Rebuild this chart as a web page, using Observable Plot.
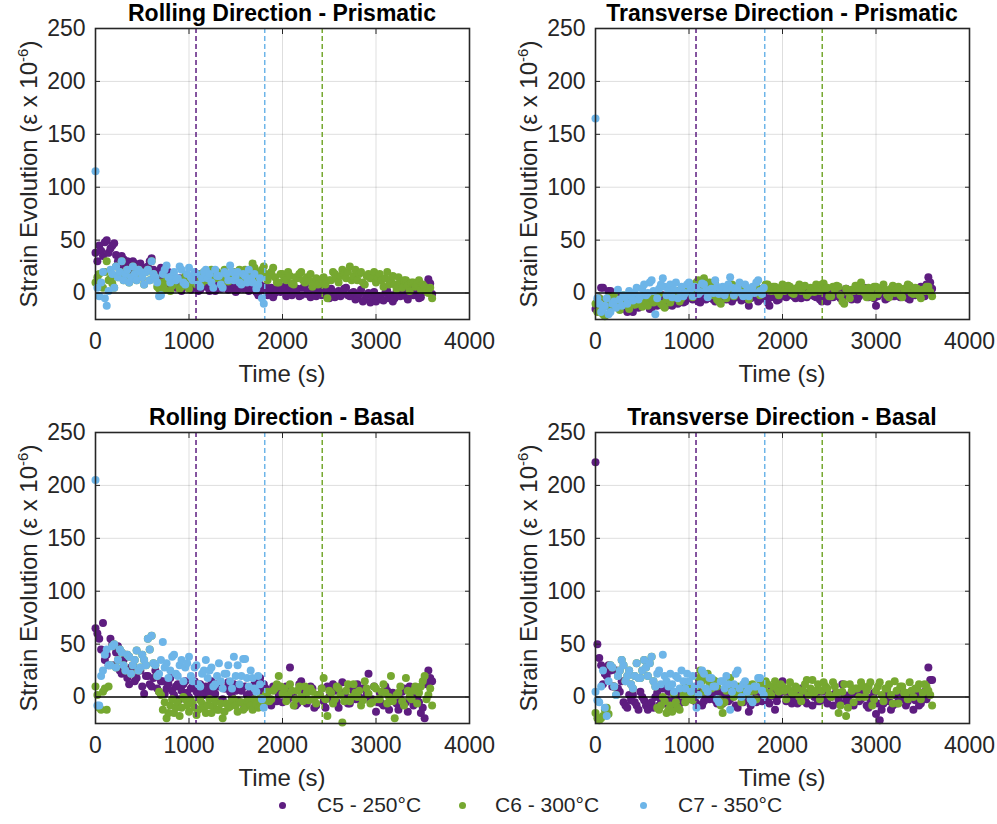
<!DOCTYPE html>
<html><head><meta charset="utf-8">
<script src="https://cdn.jsdelivr.net/npm/d3@7"></script>
<script src="https://cdn.jsdelivr.net/npm/@observablehq/plot@0.6"></script>
<style>
body{margin:0;background:#fff;font-family:"Liberation Sans",Arial,sans-serif;color:#262626}
#root{position:relative;width:997px;height:824px;overflow:hidden}
.panel{position:absolute;width:500px;height:384px}
.panel svg{position:absolute;left:0;top:0}
.title{position:absolute;left:60px;width:444px;top:0px;text-align:center;font-weight:bold;font-size:23px;line-height:26px;color:#000;white-space:nowrap}
.xlab{position:absolute;left:95px;width:374px;top:360px;text-align:center;font-size:24px;line-height:28px;color:#262626}
.ylab{position:absolute;left:29px;top:174px;transform:translate(-50%,-50%) rotate(-90deg);font-size:24px;line-height:28px;white-space:nowrap;color:#262626}
.ylab sup{font-size:15px;line-height:0}
.leg{position:absolute;top:793px;font-size:21px;line-height:24px;color:#262626;white-space:nowrap}
.legdot{position:absolute;top:802px;width:7px;height:7px;border-radius:50%}
</style></head>
<body><div id="root"></div>
<script>
const series = ["C5 - 250°C", "C6 - 300°C", "C7 - 350°C"];
const colors = ["#5E1D80", "#76A830", "#6DB5E8"];
const xTicks = [0, 1000, 2000, 3000, 4000];
const yTicks = [0, 50, 100, 150, 200, 250];
const transitionTimes = [1075, 2425, 1810]; // C5, C6, C7
const panelTitles = ["Rolling Direction - Prismatic", "Transverse Direction - Prismatic", "Rolling Direction - Basal", "Transverse Direction - Basal"];

const timesLong = [0,20,40,60,80,100,120,140,160,180,
200,220,240,260,280,300,320,340,360,380,
400,420,440,460,480,500,520,540,560,580,
600,620,640,660,680,700,720,740,760,780,
800,820,840,860,880,900,920,940,960,980,
1000,1020,1040,1060,1080,1100,1120,1140,1160,1180,
1200,1220,1240,1260,1280,1300,1320,1340,1360,1380,
1400,1420,1440,1460,1480,1500,1520,1540,1560,1580,
1600,1620,1640,1660,1680,1700,1720,1740,1760,1780,
1800,1820,1840,1860,1880,1900,1920,1940,1960,1980,
2000,2020,2040,2060,2080,2100,2120,2140,2160,2180,
2200,2220,2240,2260,2280,2300,2320,2340,2360,2380,
2400,2420,2440,2460,2480,2500,2520,2540,2560,2580,
2600,2620,2640,2660,2680,2700,2720,2740,2760,2780,
2800,2820,2840,2860,2880,2900,2920,2940,2960,2980,
3000,3020,3040,3060,3080,3100,3120,3140,3160,3180,
3200,3220,3240,3260,3280,3300,3320,3340,3360,3380,
3400,3420,3440,3460,3480,3500,3520,3540,3560,3580,
3600];
const timesShort = [0,20,40,60,80,100,120,140,160,180,
200,220,240,260,280,300,320,340,360,380,
400,420,440,460,480,500,520,540,560,580,
600,620,640,660,680,700,720,740,760,780,
800,820,840,860,880,900,920,940,960,980,
1000,1020,1040,1060,1080,1100,1120,1140,1160,1180,
1200,1220,1240,1260,1280,1300,1320,1340,1360,1380,
1400,1420,1440,1460,1480,1500,1520,1540,1560,1580,
1600,1620,1640,1660,1680,1700,1720,1740,1760,1780,
1800];

// Rolling Direction - Prismatic
const rdPrisC5 = [38,30,45,40,35,48,50,38,42,45,
47,36,30,25,35,32,28,30,25,22,
30,28,22,26,28,20,20,24,25,30,
33,22,20,18,15,24,18,14,12,20,
8,12,15,5,10,14,2,8,12,6,
8,3,5,9,10,2,3,11,12,6,
6,2,8,12,2,7,10,4,5,9,
12,3,4,10,8,1,3,6,10,4,
6,11,2,4,5,9,1,-2,8,3,
3,6,-2,2,5,-4,0,3,8,1,
2,6,-3,1,6,-2,0,4,4,-3,
-2,5,7,-1,1,-4,3,6,-3,0,
5,-2,0,3,-2,-5,4,1,-4,-1,
2,-3,-1,4,5,-2,-3,0,1,-6,
-5,-1,3,-8,-6,-2,0,-9,-4,1,
-8,-3,-3,-6,-7,0,2,-5,-2,-8,
-5,1,3,-3,0,4,-3,-6,4,0,
-2,3,2,-5,-4,1,5,8,13,9,
-1];
const rdPrisC6 = [10,15,18,8,5,20,30,12,14,9,
5,25,15,20,30,12,18,22,10,15,
25,18,12,22,20,15,8,20,22,12,
30,18,15,6,4,10,8,3,14,10,
2,7,9,13,13,4,6,11,16,8,
4,12,10,15,8,18,15,10,20,14,
12,18,22,16,14,20,18,12,10,22,
16,11,12,18,20,14,15,22,18,12,
22,18,14,20,28,24,20,15,16,22,
25,18,12,16,20,24,15,10,10,18,
18,14,12,20,16,9,8,15,14,18,
20,12,10,15,12,18,6,11,14,8,
9,13,15,8,-5,12,12,20,18,14,
10,16,22,18,14,20,25,12,16,22,
12,18,20,10,8,16,18,14,14,20,
10,15,18,12,6,14,20,8,12,16,
8,4,15,10,5,12,12,7,2,10,
10,6,8,12,3,8,6,2,0,5,
-5];
const rdPrisC7 = [115,5,-3,10,20,-5,-12,2,22,18,
5,25,15,20,30,12,18,22,10,15,
25,18,12,22,20,15,8,20,22,12,
30,18,15,10,-3,-2,18,22,26,15,
10,16,20,12,14,25,22,10,8,18,
24,15,12,20,18,8,6,14,20,22,
14,18,10,5,22,16,16,8,5,20,
18,12,26,20,12,16,20,10,8,18,
16,10,22,14,10,18,4,8,14,-5,
-10];

// Transverse Direction - Prismatic
const tdPrisC5 = [-15,-8,-5,5,5,-12,-8,2,2,-10,
-12,-5,-3,-15,-10,-6,-15,-18,-6,-12,
-18,-10,-8,-14,-12,-6,-4,-9,-10,-15,
-14,-8,-6,-12,-9,-3,-2,-8,-12,-5,
-7,-12,-3,-6,-10,-2,-5,-9,-8,-4,
0,-5,-6,-3,-3,-8,-9,-4,2,-6,
-5,-2,-1,-6,-8,0,-3,-7,1,-4,
-6,-1,-2,-8,-5,-3,0,-4,-7,-2,
-3,-6,-12,-5,-4,-1,1,-8,-6,-3,
-2,-5,-9,-12,-4,-1,2,-7,-6,0,
-1,-3,-4,2,3,-2,-3,-5,0,1,
-5,-2,2,-4,-2,1,4,-3,-4,-1,
-6,-8,0,-3,-8,2,3,-4,-3,0,
1,-5,-5,2,4,-1,-2,-6,2,0,
-6,-3,0,3,5,-2,-4,1,2,-5,
-12,-3,-1,2,4,-6,-5,0,1,-3,
-3,2,5,-4,-2,3,2,-5,-6,1,
3,-2,-1,4,6,-3,-3,8,15,10,
4];
const tdPrisC6 = [-10,-18,-5,-12,-20,-22,-8,-4,-14,-10,
-3,-8,-12,-16,-6,-2,-9,-12,-15,-7,
-4,-11,-10,-6,-7,-13,-2,-8,-12,-4,
-5,-9,-8,-3,-1,-10,-12,-14,-6,-3,
-9,-5,-3,2,2,-8,-5,0,0,6,
4,8,-4,0,10,12,2,6,14,8,
6,10,-2,4,8,-6,-8,-10,3,0,
-5,2,5,8,-3,0,7,3,0,5,
4,-2,-6,3,2,6,6,0,-2,4,
5,8,8,3,2,6,6,1,-2,5,
8,2,3,7,6,0,-1,4,5,8,
2,6,7,-2,0,5,4,1,8,3,
2,8,9,4,5,-3,-3,6,3,7,
6,-2,-8,-10,4,1,-5,3,2,7,
7,2,10,5,0,-4,5,2,-4,6,
6,-1,2,5,8,3,-2,-4,4,7,
0,3,6,-2,-4,4,3,8,7,0,
-1,5,4,-2,-5,3,2,6,6,1,
-3];
const tdPrisC7 = [165,-5,-10,-18,-15,-12,-5,-20,-18,-10,
-8,-14,3,-6,-12,-2,-4,-10,2,-3,
-7,0,5,-6,-3,4,8,-2,0,10,
12,2,-20,-5,4,8,14,6,-2,3,
8,-4,3,10,-5,2,6,-3,0,8,
10,4,-3,6,5,-1,1,9,8,2,
-4,3,4,0,12,6,-1,4,6,-2,
2,8,15,5,-2,3,5,10,0,-3,
8,2,-3,4,6,0,10,12,2,-1,
5];

// Rolling Direction - Basal
const rdBasC5 = [65,60,55,45,70,35,40,30,55,50,
30,42,48,25,22,35,40,18,12,28,
30,15,18,25,25,10,3,20,20,12,
10,18,25,8,5,15,15,3,8,12,
18,6,2,10,12,-2,6,12,15,4,
0,8,10,15,5,2,12,6,2,10,
8,3,15,6,3,12,10,-4,-2,8,
8,14,5,0,12,6,-3,10,6,-6,
10,2,-5,5,4,12,8,16,18,6,
12,8,5,-2,-8,10,8,-4,2,6,
-5,4,10,-2,28,5,0,-8,-6,12,
15,2,5,-6,-3,10,8,-10,-8,2,
2,8,-4,-10,10,0,-2,12,6,-5,
-10,4,14,0,0,-6,-6,8,5,-2,
12,0,-4,8,8,2,22,-4,-2,10,
-14,-5,4,-6,-8,10,6,-12,-3,4,
2,-6,-12,-2,5,8,-5,-14,10,0,
-8,4,0,-5,-15,-10,-20,12,25,18,
15];
const rdBasC6 = [10,2,-10,-12,5,8,-12,10,30,48,
50,28,35,45,42,30,25,40,38,22,
30,35,44,25,28,40,35,30,55,45,
58,32,30,20,5,2,-12,-5,-20,-15,
-8,-2,-15,-10,-5,-18,-10,0,-2,-8,
-14,-3,-6,-10,-17,-12,-3,-6,-10,-15,
-8,-2,-15,-9,-4,-12,-12,-6,-20,-14,
-6,-10,-9,-3,-2,-8,-14,-5,-5,-12,
-10,-4,-3,-8,-12,-2,-7,-10,-1,-6,
-5,2,5,-4,-2,6,8,12,20,10,
3,8,-4,2,12,6,-8,-2,6,10,
0,-4,10,4,-3,8,5,-2,-6,2,
2,8,18,-2,-18,6,4,-6,-2,10,
8,2,-24,-4,6,12,-4,0,12,4,
0,6,-8,-3,15,8,3,-6,-5,10,
8,-2,-2,5,12,4,-6,0,20,-4,
-20,2,4,10,-4,-8,18,6,0,-2,
6,10,-6,4,10,15,20,-2,2,8,
-8];
const rdBasC7 = [205,-8,-8,20,25,40,45,30,30,48,
50,28,35,45,42,30,25,40,38,22,
30,35,44,25,28,40,35,30,55,45,
58,32,30,20,22,35,52,28,32,18,
25,38,40,22,20,30,35,15,28,32,
38,20,15,28,30,12,10,22,25,35,
18,25,28,10,12,20,32,15,8,22,
22,30,15,8,38,20,30,12,20,36,
36,18,10,25,18,8,5,20,12,-2,
-10];

// Transverse Direction - Basal
const tdBasC5 = [222,50,37,30,12,22,20,30,25,10,
10,25,8,5,15,-5,-8,-10,2,-3,
2,-5,-8,-12,5,0,-3,-8,-12,-6,
-5,-10,0,4,-8,-3,8,-6,-3,5,
5,-4,-8,0,2,-6,-5,3,6,-2,
-2,4,4,-3,-6,5,3,-8,-4,0,
8,-2,0,4,-3,-6,5,0,-6,2,
2,-4,-2,3,6,-8,-10,2,0,-5,
4,-2,-14,-8,2,6,-5,0,3,-4,
-3,2,-2,-6,6,1,-12,-4,2,8,
15,5,-4,0,5,-6,0,3,-6,-2,
8,2,-2,-6,4,6,-8,0,2,-4,
-4,5,6,-2,-6,2,0,-8,3,4,
-3,-6,12,2,-4,0,2,-6,-8,3,
5,-4,-2,6,3,-8,-10,-2,0,4,
-16,-6,-22,-12,-6,2,4,-4,-12,-8,
2,-6,-4,4,6,-2,-8,-4,0,3,
-12,-3,3,-8,-6,2,5,-2,28,16,
16];
const tdBasC6 = [-15,-20,-22,-20,-18,-12,-10,-16,30,28,
10,2,20,25,35,30,15,20,25,12,
8,20,32,18,18,25,35,28,20,32,
38,15,10,-10,-12,-8,0,-4,-15,-12,
-8,-14,3,-5,-10,-12,8,2,-5,0,
12,5,-3,2,10,18,25,15,5,20,
22,14,8,16,15,10,-2,-8,-15,-5,
6,12,18,8,0,4,10,5,-5,2,
8,12,3,-2,12,6,-2,8,16,10,
8,15,12,4,2,10,15,8,5,12,
10,6,-2,8,14,4,4,10,8,0,
-4,6,12,16,2,8,16,4,6,12,
-2,6,14,10,8,2,0,14,10,4,
-15,-8,5,12,-18,-10,12,6,-5,8,
8,0,14,10,0,6,10,14,-8,-2,
6,10,14,2,-4,8,8,12,2,-6,
15,6,-6,10,10,4,4,-2,14,6,
0,8,8,12,-2,4,12,10,6,2,
-8];
const tdBasC7 = [5,-3,-5,10,25,-10,-18,15,30,28,
10,2,20,25,35,30,15,20,25,12,
8,20,32,18,18,25,35,28,20,32,
38,15,10,22,25,12,40,20,15,10,
22,12,5,20,18,8,25,15,8,22,
15,5,20,10,-10,2,12,25,22,8,
5,18,18,10,10,-2,-5,15,15,8,
20,12,-12,5,12,22,25,8,0,12,
15,5,8,-2,-5,10,10,18,18,6,
2];

const panels = [
  {title: panelTitles[0], c5: rdPrisC5, c6: rdPrisC6, c7: rdPrisC7, left: 0, top: 0},
  {title: panelTitles[1], c5: tdPrisC5, c6: tdPrisC6, c7: tdPrisC7, left: 500, top: 0},
  {title: panelTitles[2], c5: rdBasC5, c6: rdBasC6, c7: rdBasC7, left: 0, top: 404},
  {title: panelTitles[3], c5: tdBasC5, c6: tdBasC6, c7: tdBasC7, left: 500, top: 404}
];

const root = document.getElementById("root");
const colorScale = {domain: series, range: colors};

for (const p of panels) {
  const data = [];
  timesLong.forEach((t, i) => { if (p.c5[i] !== undefined) data.push({t, v: p.c5[i], s: series[0]}); });
  timesLong.forEach((t, i) => { if (p.c6[i] !== undefined) data.push({t, v: p.c6[i], s: series[1]}); });
  timesShort.forEach((t, i) => { if (p.c7[i] !== undefined) data.push({t, v: p.c7[i], s: series[2]}); });
  const trans = transitionTimes.map((t, i) => ({t, s: series[i]}));

  const svg = Plot.plot({
    width: 500, height: 384,
    marginLeft: 95, marginRight: 31, marginTop: 28, marginBottom: 65,
    x: {domain: [0, 4000], label: null},
    y: {domain: [-25, 250], label: null},
    color: colorScale,
    style: {fontFamily: "'Liberation Sans', Arial, sans-serif", fontSize: "23px", color: "#262626", background: "#fff", overflow: "visible"},
    marks: [
      Plot.gridX(xTicks.slice(1, 4), {stroke: "#000", strokeOpacity: 0.13, strokeWidth: 1}),
      Plot.gridY(yTicks.slice(1, 5), {stroke: "#000", strokeOpacity: 0.13, strokeWidth: 1}),
      Plot.dot(data, {x: "t", y: "v", fill: "s", r: 4, stroke: null}),
      Plot.ruleX(trans, {x: "t", stroke: "s", strokeDasharray: "5,3", strokeWidth: 1.5}),
      Plot.ruleY([0], {stroke: "#000", strokeWidth: 1.4}),
      Plot.axisX(xTicks, {tickSize: 0, tickPadding: 13, fill: "#262626", tickFormat: "d"}),
      Plot.axisY(yTicks, {tickSize: 0, tickPadding: 10, fill: "#262626", tickFormat: "d"}),
      Plot.axisX(xTicks.slice(1, 4), {anchor: "bottom", tickSize: -5, text: null, stroke: "#262626"}),
      Plot.axisX(xTicks.slice(1, 4), {anchor: "top", tickSize: -5, text: null, stroke: "#262626"}),
      Plot.axisY(yTicks, {anchor: "left", tickSize: -5, text: null, stroke: "#262626"}),
      Plot.axisY(yTicks, {anchor: "right", tickSize: -5, text: null, stroke: "#262626"}),
      Plot.frame({stroke: "#262626", strokeWidth: 1.6})
    ]
  });

  const div = document.createElement("div");
  div.className = "panel";
  div.style.left = p.left + "px";
  div.style.top = p.top + "px";
  div.appendChild(svg);
  const t = document.createElement("div"); t.className = "title"; t.textContent = p.title; div.appendChild(t);
  const xl = document.createElement("div"); xl.className = "xlab"; xl.textContent = "Time (s)"; div.appendChild(xl);
  const yl = document.createElement("div"); yl.className = "ylab"; yl.innerHTML = "Strain Evolution (ε x 10<sup>-6</sup>)"; div.appendChild(yl);
  root.appendChild(div);
}

// legend
const legPos = [{dot: 279, lab: 317}, {dot: 459, lab: 495}, {dot: 640, lab: 678}];
series.forEach((s, i) => {
  const d = document.createElement("div"); d.className = "legdot";
  d.style.left = legPos[i].dot + "px"; d.style.background = colors[i]; root.appendChild(d);
  const l = document.createElement("div"); l.className = "leg";
  l.style.left = legPos[i].lab + "px"; l.textContent = s; root.appendChild(l);
});
</script>
</body></html>
